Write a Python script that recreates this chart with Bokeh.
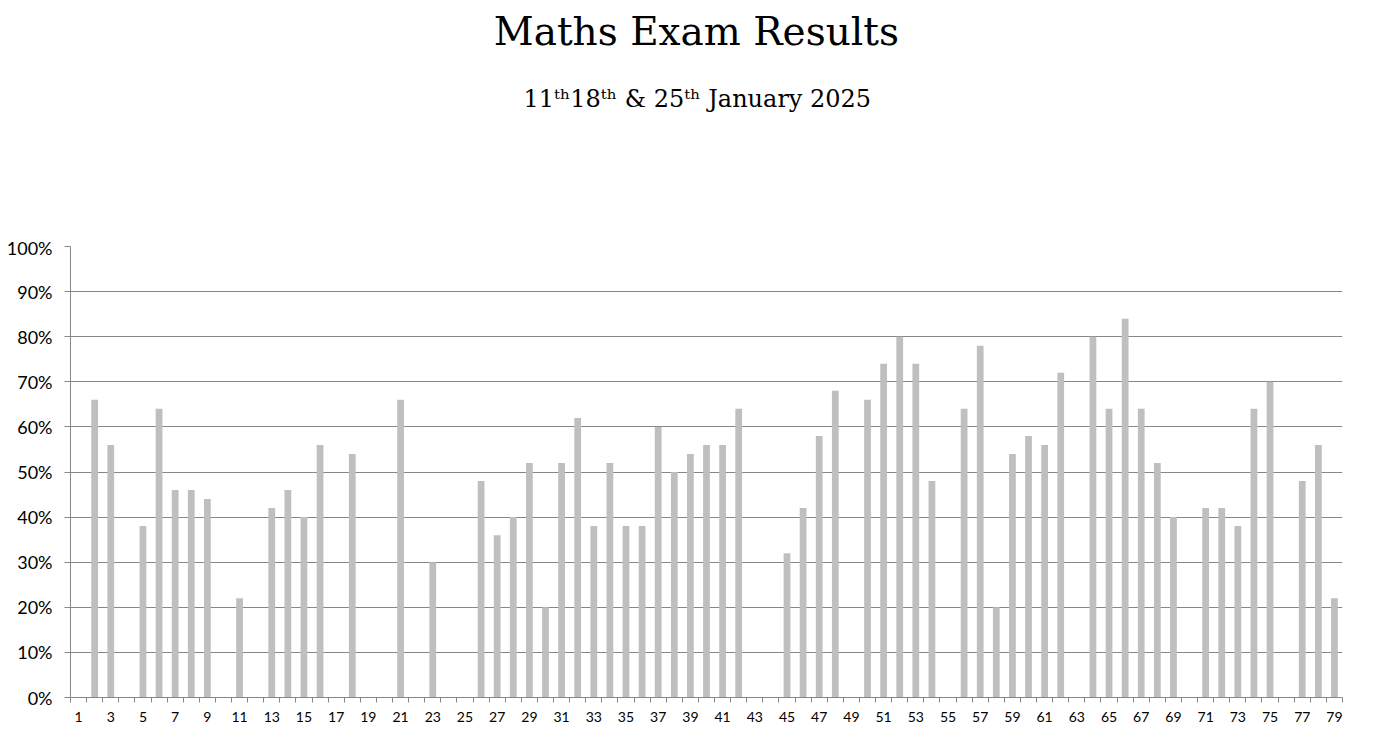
from bokeh.plotting import figure
from bokeh.layouts import column
from bokeh.models import FixedTicker, NumeralTickFormatter, ColumnDataSource, Range1d
from bokeh.core.properties import value
from bokeh.embed import file_html
from bokeh.resources import INLINE

# ---- data ----
students = list(range(1, 80))
scores = [0, 66, 56, 0, 38, 64, 46, 46, 44, 0,
          22, 0, 42, 46, 40, 56, 0, 54, 0, 0,
          66, 0, 30, 0, 0, 48, 36, 40, 52, 20,
          52, 62, 38, 52, 38, 38, 60, 50, 54, 56,
          56, 64, 0, 0, 32, 42, 58, 68, 0, 66,
          74, 80, 74, 48, 0, 64, 78, 20, 54, 58,
          56, 72, 0, 80, 64, 84, 64, 52, 40, 0,
          42, 42, 38, 64, 70, 0, 48, 56, 22]
x_tick_labels = list(range(1, 80, 2))
y_ticks = [i / 10 for i in range(11)]
title_text = "Maths Exam Results"
subtitle_text = "11\u1d57\u02b018\u1d57\u02b0 & 25\u1d57\u02b0 January 2025"

W = 1382
HEAD_H = 236

# ---- heading figure (titles) ----
head = figure(width=W, height=HEAD_H, output_backend="svg", toolbar_location=None,
              x_range=Range1d(0, W), y_range=Range1d(HEAD_H, 0),
              x_axis_type=None, y_axis_type=None,
              min_border_left=0, min_border_right=0, min_border_top=0, min_border_bottom=0)
head.title = None
head.outline_line_color = None
head.xgrid.visible = False
head.ygrid.visible = False
head.text(x=[680], y=[31], text=[title_text], text_font=value("DejaVu Serif"),
          text_font_size=value("39px"), text_align="center", text_baseline="middle",
          text_color="#000000")
head.text(x=[681], y=[98], text=[subtitle_text], text_font=value("DejaVu Serif"),
          text_font_size=value("24px"), text_align="center", text_baseline="middle",
          text_color="#000000")

# ---- main chart ----
source = ColumnDataSource(dict(x=students, y=[s / 100 for s in scores]))

p = figure(width=W, height=500, output_backend="svg", toolbar_location=None,
           x_range=Range1d(0.5, 79.5), y_range=Range1d(0, 1),
           min_border_left=70, min_border_right=40, min_border_bottom=39,
           min_border_top=10)
p.title = None
p.outline_line_color = None

p.vbar(x="x", top="y", width=0.42, source=source, fill_color="#BFBFBF", line_color=None)

GRID = "#878787"
# x axis
p.xaxis.ticker = FixedTicker(ticks=x_tick_labels, minor_ticks=[i + 0.5 for i in range(0, 80)])
p.xaxis.major_tick_out = 0
p.xaxis.major_tick_in = 0
p.xaxis.minor_tick_out = 5
p.xaxis.minor_tick_in = 0
p.xaxis.minor_tick_line_color = GRID
p.xaxis.axis_line_color = GRID
p.xaxis.major_label_text_font = "Lato"
p.xaxis.major_label_text_font_size = "14px"
p.xaxis.major_label_text_color = "#000000"
p.xaxis.major_label_standoff = 9

# y axis
p.yaxis.ticker = FixedTicker(ticks=y_ticks)
p.yaxis.formatter = NumeralTickFormatter(format="0%")
p.yaxis.major_tick_out = 6
p.yaxis.major_tick_in = 0
p.yaxis.minor_tick_line_color = None
p.yaxis.major_tick_line_color = GRID
p.yaxis.axis_line_color = GRID
p.yaxis.major_label_text_font = "Lato"
p.yaxis.major_label_text_font_size = "18px"
p.yaxis.major_label_text_color = "#000000"
p.yaxis.major_label_standoff = 12

p.xgrid.visible = False
p.ygrid.ticker = FixedTicker(ticks=y_ticks)
p.ygrid.grid_line_color = GRID
p.ygrid.grid_line_width = 1

layout = column(head, p, spacing=0)
open("out.html", "w").write(file_html(layout, INLINE))
